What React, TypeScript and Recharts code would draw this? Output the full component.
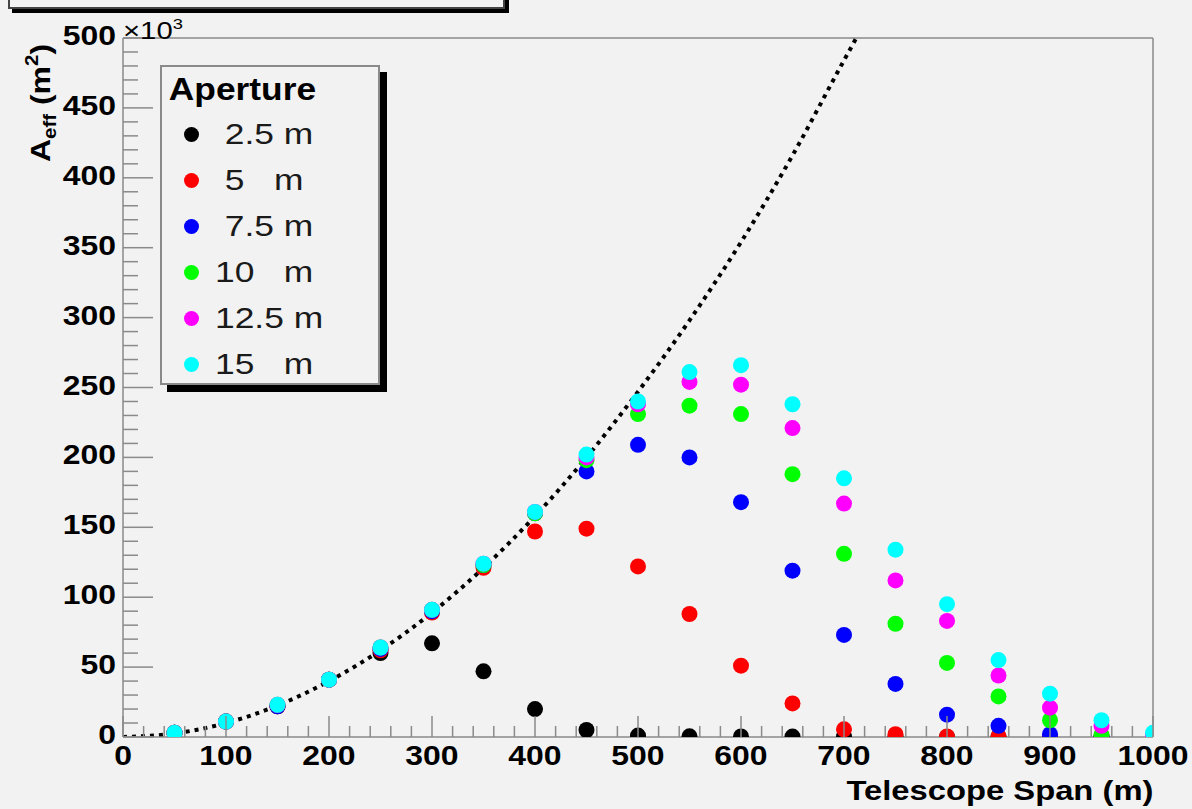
import {
  ComposedChart,
  Legend,
  Line,
  ReferenceLine,
  Scatter,
  XAxis,
  YAxis,
} from "recharts"

// Effective area (x10^3 m^2) against telescope span, one list per aperture
const SPANS = [
  50, 100, 150, 200, 250, 300, 350, 400, 450, 500, 550, 600, 650, 700, 750,
  800, 850, 900, 950, 1000,
]
const AEFF_2_5 = [3, 11, 22, 41, 60, 67, 47, 20, 5, 1, 0.5, 0.4, 0.3, 0.2, 0.1, 0, 0, 0, 0, 0]
const AEFF_5 = [3, 11, 22, 41, 62, 89, 121, 147, 149, 122, 88, 51, 24, 5.5, 2, 0.4, 0.5, 0.2, 0, 0]
const AEFF_7_5 = [3, 11, 22, 41, 63, 90, 123, 160, 190, 209, 200, 168, 119, 73, 38, 16, 8, 2, 0.5, 0.2]
const AEFF_10 = [3, 11, 23, 41, 64, 91, 123, 160, 198, 231, 237, 231, 188, 131, 81, 53, 29, 12, 1.5, 0.5]
const AEFF_12_5 = [3, 11, 23, 41, 64, 91, 124, 161, 200, 238, 254, 252, 221, 167, 112, 83, 44, 21, 8, 1]
const AEFF_15 = [3, 11, 23, 41, 64, 91, 124, 161, 202, 240, 261, 266, 238, 185, 134, 95, 55, 31, 12, 3]

// dotted reference curve
const CURVE_SPAN = [0, 50, 100, 150, 200, 250, 300, 350, 400, 450, 500, 550, 600, 650, 700, 712]
const CURVE_AEFF = [0, 2.5, 10, 22.5, 40, 62, 89, 121, 158, 200, 247, 298, 354, 416, 484, 500]

const APERTURE_LABELS = [" 2.5 m", " 5   m", " 7.5 m", "10   m", "12.5 m", "15   m"]
const APERTURE_COLORS = ["#000000", "#ff0000", "#0000ff", "#00ff00", "#ff00ff", "#00ffff"]
const APERTURE_VALUES = [AEFF_2_5, AEFF_5, AEFF_7_5, AEFF_10, AEFF_12_5, AEFF_15]

const X_MAJOR = [0, 100, 200, 300, 400, 500, 600, 700, 800, 900, 1000]
const Y_MAJOR = [0, 50, 100, 150, 200, 250, 300, 350, 400, 450, 500]

const WIDTH = 1192
const HEIGHT = 809
const LEFT = 123
const TOP = 38
const RIGHT = 1153
const BOTTOM = 737
const BG = "#f2f2f2"
const GREY = "#8a8a8a"
const FONT = '"Liberation Sans", Arial, sans-serif'
// the source picture is stretched sideways a little
const BOLD_STRETCH = 1.14
const TEXT_STRETCH = 1.22

const xTicks = Array.from({ length: 51 }, (_, i) => i * 20)
const yTicks = Array.from({ length: 51 }, (_, i) => i * 10)

const series = APERTURE_VALUES.map((values, i) => ({
  name: APERTURE_LABELS[i],
  color: APERTURE_COLORS[i],
  data: SPANS.map((x, j) => ({ x, y: values[j] })),
}))
const curve = CURVE_SPAN.map((x, i) => ({ x, y: CURVE_AEFF[i] }))

function XTick(props: any) {
  const { x, payload } = props
  const major = X_MAJOR.includes(payload.value)
  return (
    <g>
      <line x1={x} x2={x} y1={BOTTOM} y2={BOTTOM - (major ? 21 : 11)} stroke={GREY} strokeWidth={1.5} />
      {major && (
        <text
          transform={`translate(${x} ${BOTTOM + 28}) scale(${BOLD_STRETCH} 1)`}
          textAnchor="middle"
          fontFamily={FONT}
          fontWeight="bold"
          fontSize={28}
          fill="#000"
        >
          {payload.value}
        </text>
      )}
    </g>
  )
}

function YTick(props: any) {
  const { y, payload } = props
  const major = Y_MAJOR.includes(payload.value)
  return (
    <g>
      <line x1={LEFT} x2={LEFT + (major ? 30 : 15)} y1={y} y2={y} stroke={GREY} strokeWidth={1.5} />
      {major && (
        <text
          transform={`translate(${LEFT - 7} ${y + 7}) scale(${BOLD_STRETCH} 1)`}
          textAnchor="end"
          fontFamily={FONT}
          fontWeight="bold"
          fontSize={28}
          fill="#000"
        >
          {payload.value}
        </text>
      )}
    </g>
  )
}

function LegendBox() {
  return (
    <div
      style={{
        width: 220,
        height: 320,
        boxSizing: "border-box",
        border: `2px solid ${GREY}`,
        background: BG,
        boxShadow: "7px 7px 0 #000",
        fontFamily: FONT,
        paddingTop: 2,
      }}
    >
      <div
        style={{
          height: 42,
          lineHeight: "42px",
          paddingLeft: 6,
          fontWeight: "bold",
          fontSize: 31,
          transform: `scaleX(${BOLD_STRETCH})`,
          transformOrigin: "left center",
        }}
      >
        Aperture
      </div>
      {series.map((s) => (
        <div key={s.name} style={{ height: 46, display: "flex", alignItems: "center" }}>
          <span
            style={{
              display: "inline-block",
              width: 15,
              height: 15,
              borderRadius: "50%",
              background: s.color,
              marginLeft: 22,
              marginRight: 16,
              flex: "none",
            }}
          />
          <span
            style={{
              fontSize: 29,
              whiteSpace: "pre",
              color: "#1a1a1a",
              display: "inline-block",
              transform: `scaleX(${TEXT_STRETCH})`,
              transformOrigin: "left center",
            }}
          >
            {s.name}
          </span>
        </div>
      ))}
    </div>
  )
}

export default function App() {
  return (
    <div style={{ position: "fixed", left: 0, top: 0, width: WIDTH, height: HEIGHT, background: BG, overflow: "hidden" }}>
      <div
        style={{
          position: "absolute",
          left: 8,
          top: -40,
          width: 493,
          height: 45,
          border: "2px solid #444",
          boxShadow: "4px 4px 0 #000",
          background: BG,
        }}
      />
      <ComposedChart width={WIDTH} height={HEIGHT} margin={{ top: TOP, right: WIDTH - RIGHT, bottom: 0, left: 0 }}>
        <XAxis
          type="number"
          dataKey="x"
          domain={[0, 1000]}
          ticks={xTicks}
          interval={0}
          height={HEIGHT - BOTTOM}
          tickSize={0}
          tickMargin={0}
          tickLine={false}
          axisLine={{ stroke: GREY, strokeWidth: 1.5 }}
          tick={<XTick />}
          allowDataOverflow
        />
        <YAxis
          type="number"
          dataKey="y"
          domain={[0, 500]}
          ticks={yTicks}
          interval={0}
          width={LEFT}
          tickSize={0}
          tickMargin={0}
          tickLine={false}
          axisLine={{ stroke: GREY, strokeWidth: 1.5 }}
          tick={<YTick />}
          allowDataOverflow
        />
        <ReferenceLine x={1000} stroke={GREY} strokeWidth={1.5} />
        <ReferenceLine y={500} stroke={GREY} strokeWidth={1.5} />
        <Line
          data={curve}
          dataKey="y"
          type="monotone"
          stroke="#000"
          strokeWidth={4}
          strokeDasharray="4 5"
          dot={false}
          activeDot={false}
          isAnimationActive={false}
          legendType="none"
        />
        {series.map((s) => (
          <Scatter
            key={s.name}
            name={s.name}
            data={s.data}
            fill={s.color}
            isAnimationActive={false}
            shape={(p: any) => <circle cx={p.cx} cy={p.cy} r={8} fill={s.color} />}
          />
        ))}
        <Legend
          layout="vertical"
          align="center"
          verticalAlign="middle"
          wrapperStyle={{ left: 160, top: 65, width: 220 }}
          content={() => <LegendBox />}
        />
      </ComposedChart>
      <div
        style={{
          position: "absolute",
          left: 123,
          top: 10,
          fontFamily: FONT,
          fontSize: 24,
          lineHeight: "28px",
          transform: `scaleX(${TEXT_STRETCH})`,
          transformOrigin: "left center",
        }}
      >
        ×10<sup style={{ fontSize: 15, verticalAlign: 10 }}>3</sup>
      </div>
      <div
        style={{
          position: "absolute",
          left: 41,
          top: 103,
          transform: `translate(-50%, -50%) rotate(-90deg) scaleX(${BOLD_STRETCH})`,
          fontFamily: FONT,
          fontWeight: "bold",
          fontSize: 28,
          whiteSpace: "nowrap",
        }}
      >
        A<sub style={{ fontSize: 18, verticalAlign: -6 }}>eff</sub> (m<sup style={{ fontSize: 18, verticalAlign: 12 }}>2</sup>)
      </div>
      <div
        style={{
          position: "absolute",
          right: WIDTH - RIGHT,
          top: 775,
          fontFamily: FONT,
          fontWeight: "bold",
          fontSize: 28,
          whiteSpace: "nowrap",
          transform: `scaleX(1.17)`,
          transformOrigin: "right center",
        }}
      >
        Telescope Span (m)
      </div>
    </div>
  )
}
